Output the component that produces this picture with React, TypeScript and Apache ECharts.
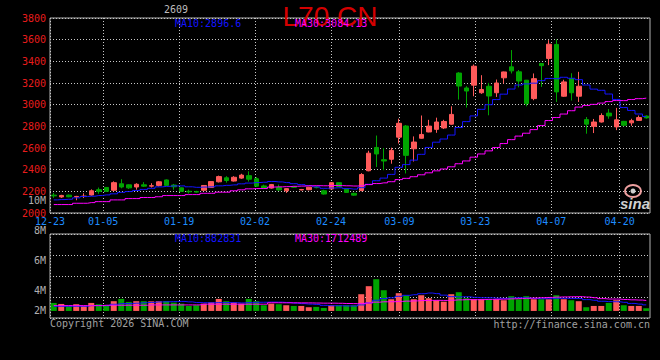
import React, { useEffect, useRef } from 'react';
import * as echarts from 'echarts';

const dates = [
  '12-23','12-24','12-25','12-26','12-29','12-30','12-31','01-05','01-06','01-07',
  '01-08','01-09','01-12','01-13','01-14','01-15','01-16','01-19','01-20','01-21',
  '01-22','01-23','01-26','01-27','01-28','01-29','01-30','02-02','02-03','02-04',
  '02-05','02-06','02-09','02-10','02-11','02-12','02-13','02-24','02-25','02-26',
  '02-27','03-02','03-03','03-04','03-05','03-06','03-09','03-10','03-11','03-12',
  '03-13','03-16','03-17','03-18','03-19','03-20','03-23','03-24','03-25','03-26',
  '03-27','03-30','03-31','04-01','04-02','04-03','04-07','04-08','04-09','04-10',
  '04-13','04-14','04-15','04-16','04-17','04-20','04-21','04-22','04-23','04-24',
];

const opens = [
  2165,2148,2165,2148,2152,2166,2215,2236,2210,2270,
  2260,2240,2260,2248,2255,2305,2258,2232,2200,2198,
  2210,2235,2288,2325,2295,2322,2345,2316,2250,2230,
  2235,2205,2242,2213,2215,2237,2205,2222,2280,2220,
  2182,2208,2390,2605,2492,2496,2700,2803,2593,2690,
  2748,2772,2785,2820,3292,3154,3180,3110,3170,3110,
  3248,3349,3303,3226,3056,3380,3427,3556,3078,3241,
  3078,2862,2800,2840,2922,2795,2846,2832,2855,2895,
];
const closes = [
  2158,2162,2150,2153,2156,2205,2200,2200,2280,2240,
  2232,2265,2248,2252,2288,2255,2242,2200,2196,2193,
  2254,2290,2336,2300,2330,2350,2312,2248,2228,2262,
  2213,2225,2238,2217,2238,2234,2175,2280,2245,2190,
  2165,2355,2552,2545,2480,2578,2828,2532,2655,2725,
  2802,2840,2845,2910,3172,3126,3355,3140,3080,3200,
  3302,3312,3218,3010,3240,3360,3558,3118,3210,3110,
  3170,2820,2840,2900,2896,2860,2810,2852,2881,2878,
];
const lows = [
  2140,2140,2145,2118,2138,2160,2178,2195,2200,2228,
  2222,2215,2240,2235,2245,2250,2215,2196,2180,2188,
  2205,2232,2282,2280,2290,2315,2290,2240,2222,2225,
  2205,2185,2232,2208,2210,2228,2170,2218,2240,2186,
  2160,2200,2385,2425,2395,2455,2641,2365,2475,2686,
  2745,2740,2775,2815,3047,2973,3078,3100,2902,3071,
  3195,3288,3160,2985,3041,3164,3365,3025,3072,3038,
  3025,2732,2738,2835,2870,2765,2800,2805,2850,2872,
];
const highs = [
  2185,2168,2170,2158,2182,2218,2235,2240,2292,2312,
  2265,2275,2285,2275,2295,2310,2268,2236,2215,2205,
  2258,2293,2345,2340,2340,2362,2385,2330,2262,2268,
  2262,2230,2250,2222,2242,2250,2215,2286,2283,2228,
  2186,2368,2575,2715,2600,2603,2871,2812,2707,2900,
  2860,2880,2860,2985,3300,3170,3371,3272,3201,3232,
  3305,3504,3320,3228,3288,3382,3596,3602,3230,3290,
  3303,2886,2868,2920,2960,2970,2850,2870,2900,2900,
];
const volumes = [
  1250000,1090000,730000,1050000,780000,1250000,1050000,890000,1520000,1880000,
  1410000,1520000,1520000,1500000,1520000,1540000,1300000,1140000,780000,890000,
  1140000,1360000,1880000,1520000,1360000,1140000,1880000,1520000,890000,1140000,
  1050000,890000,780000,780000,580000,630000,470000,890000,890000,890000,
  890000,2610000,3860000,4950000,3230000,1830000,2770000,2450000,1830000,2450000,
  1980000,1670000,1450000,2610000,2920000,1980000,1830000,1830000,1830000,1830000,
  1670000,2300000,1830000,2300000,1830000,1830000,1830000,2450000,1830000,1670000,
  1520000,580000,780000,780000,1250000,1670000,890000,780000,780000,420000,
];

// moving-average values for the first days (their windows reach before the visible range)
const ma10Head = [2121,2124,2127,2140,2152,2155,2161,2167,2177];
const ma30Head = [
  2078,2078,2078,2090,2090,2096,2105,2105,2121,2121,
  2133,2133,2143,2143,2150,2161,2161,2161,2170,2170,
  2182,2182,2192,2192,2205,2214,2223,2226,2226,
];
const volMa10Head = [730000,730000,730000,730000,730000,830000,830000,830000,1040000];
const volMa30Head = [
  830000,830000,830000,830000,830000,830000,830000,890000,890000,890000,
  890000,890000,890000,940000,940000,940000,940000,940000,940000,940000,
  1050000,1050000,1050000,1050000,1050000,1050000,1050000,1050000,1050000,
];

const labelIdx = [0, 7, 17, 27, 37, 46, 56, 66, 75];
const priceMin = 2000;
const priceMax = 3800;
const priceStep = 200;
const volLabels = ['10M', '8M', '6M', '4M', '2M'];
const volLabelY = [200, 230, 260.7, 290.7, 310.8];

const title = 'L70 CN';
const code = '2609';
const priceMa10Text = 'MA10:2896.6';
const priceMa30Text = 'MA30:3084.13';
const volMa10Text = 'MA10:882831';
const volMa30Text = 'MA30:1712489';

const UP = '#ff5a5a';
const DOWN = '#00a400';
const MONO = '"DejaVu Sans Mono", "Liberation Mono", monospace';

function movingAvg(src: number[], len: number, head: number[]): number[] {
  return src.map((_, i) => {
    if (i < len - 1) return head[i];
    let s = 0;
    for (let k = i - len + 1; k <= i; k++) s += src[k];
    return Math.round((s / len) * 100) / 100;
  });
}

export default function App() {
  const ref = useRef<HTMLDivElement>(null);
  useEffect(() => {
    const chart = echarts.init(ref.current!, null, { renderer: 'svg' });
    const ohlc = dates.map((_, i) => [opens[i], closes[i], lows[i], highs[i]]);
    const isUp = dates.map((_, i) => closes[i] >= opens[i]);
    const ma10 = movingAvg(closes, 10, ma10Head);
    const ma30 = movingAvg(closes, 30, ma30Head);
    const vma10 = movingAvg(volumes, 10, volMa10Head);
    const vma30 = movingAvg(volumes, 30, volMa30Head);
    const showIdx = (i: number) => labelIdx.indexOf(i) >= 0;
    const dotted: any = { color: '#c8c8c8', width: 1, type: [1, 2] };
    const txt = (x: number, y: number, text: string, fill: string, align = 'left', font = `10px ${MONO}`) => ({
      type: 'text',
      x,
      y,
      z: 50,
      style: { text, fill, font, textAlign: align, align, textVerticalAlign: 'middle', verticalAlign: 'middle' },
    });

    chart.setOption({
      animation: false,
      backgroundColor: '#000',
      grid: [
        { left: 50, right: 10, top: 18, height: 195, show: true, borderColor: '#b4b4b4', borderWidth: 1 },
        { left: 50, right: 10, top: 234, height: 84, show: true, borderColor: '#b4b4b4', borderWidth: 1 },
      ],
      xAxis: [
        { type: 'category', gridIndex: 0, data: dates, boundaryGap: true, show: false },
        {
          type: 'category', gridIndex: 0, data: dates, boundaryGap: false, position: 'bottom',
          axisLine: { show: false }, axisTick: { show: false },
          axisLabel: { interval: showIdx, color: '#1e8cff', fontFamily: MONO, fontSize: 10, margin: 3 },
          splitLine: { show: true, interval: showIdx, lineStyle: dotted },
        },
        { type: 'category', gridIndex: 1, data: dates, boundaryGap: true, show: false },
        {
          type: 'category', gridIndex: 1, data: dates, boundaryGap: false,
          axisLine: { show: false }, axisTick: { show: false }, axisLabel: { show: false },
          splitLine: { show: true, interval: showIdx, lineStyle: dotted },
        },
      ],
      yAxis: [
        {
          type: 'value', gridIndex: 0, min: priceMin, max: priceMax, interval: priceStep,
          axisLine: { show: false }, axisTick: { show: false },
          axisLabel: {
            color: '#e81c1c', fontFamily: MONO, fontSize: 10, margin: 4, padding: [0, 0, 3, 0],
            formatter: (v: number) => String(v),
          },
          splitLine: { show: true, lineStyle: dotted },
        },
        { type: 'value', gridIndex: 1, min: -1100000, max: 12000000, show: false },
        {
          type: 'value', gridIndex: 1, min: 0, max: 4, interval: 1,
          axisLine: { show: false }, axisTick: { show: false }, axisLabel: { show: false },
          splitLine: { show: true, lineStyle: dotted },
        },
      ],
      series: [
        {
          type: 'candlestick', xAxisIndex: 0, yAxisIndex: 0, data: ohlc, barWidth: 5,
          itemStyle: { color: UP, color0: DOWN, borderColor: UP, borderColor0: DOWN, borderWidth: 1 },
        },
        {
          type: 'line', xAxisIndex: 0, yAxisIndex: 0, data: ma10, showSymbol: false, step: 'middle',
          lineStyle: { color: '#1414ff', width: 1 }, z: 5,
        },
        {
          type: 'line', xAxisIndex: 0, yAxisIndex: 0, data: ma30, showSymbol: false, step: 'middle',
          lineStyle: { color: '#ff00ff', width: 1 }, z: 5,
        },
        {
          type: 'bar', xAxisIndex: 2, yAxisIndex: 1, data: volumes, barWidth: 6,
          itemStyle: { color: (p: any) => (isUp[p.dataIndex] ? UP : DOWN) },
        },
        {
          type: 'line', xAxisIndex: 2, yAxisIndex: 1, data: vma10, showSymbol: false, step: 'middle',
          lineStyle: { color: '#1414ff', width: 1 }, z: 5,
        },
        {
          type: 'line', xAxisIndex: 2, yAxisIndex: 1, data: vma30, showSymbol: false, step: 'middle',
          lineStyle: { color: '#ff00ff', width: 1 }, z: 5,
        },
      ],
      graphic: [
        {
          type: 'text', x: 330, y: 16.7, z: 40,
          style: {
            text: title, fill: '#d40000', font: '28px "Liberation Sans", Arial, sans-serif',
            textAlign: 'center', align: 'center', textVerticalAlign: 'middle', verticalAlign: 'middle',
          },
        },
        txt(164, 9.5, code, '#bdbdbd'),
        txt(175, 23.5, priceMa10Text, '#1414ff'),
        txt(295, 23.5, priceMa30Text, '#ff00ff'),
        txt(175, 238.5, volMa10Text, '#1414ff'),
        txt(295, 238.5, volMa30Text, '#ff00ff'),
        ...volLabels.map((t, i) => txt(46, volLabelY[i], t, '#b0b0b0', 'right')),
        txt(50, 323.5, 'Copyright 2026 SINA.COM', '#a0a0a0'),
        txt(650, 324, 'http://finance.sina.com.cn', '#a0a0a0', 'right'),
        {
          type: 'ellipse', z: 45, shape: { cx: 633, cy: 191, rx: 8, ry: 6 },
          style: { fill: 'none', stroke: '#eea0a0', lineWidth: 2 },
        },
        { type: 'circle', z: 46, shape: { cx: 633, cy: 191, r: 2.5 }, style: { fill: '#d0d0d0' } },
        txt(635, 203, 'sina', '#cfcfcf', 'center', 'italic bold 15px "Liberation Sans", Arial, sans-serif'),
      ],
    });
    return () => chart.dispose();
  }, []);
  return (
    <div
      ref={ref}
      style={{ position: 'fixed', left: 0, top: 0, width: 660, height: 360, background: '#000' }}
    />
  );
}
